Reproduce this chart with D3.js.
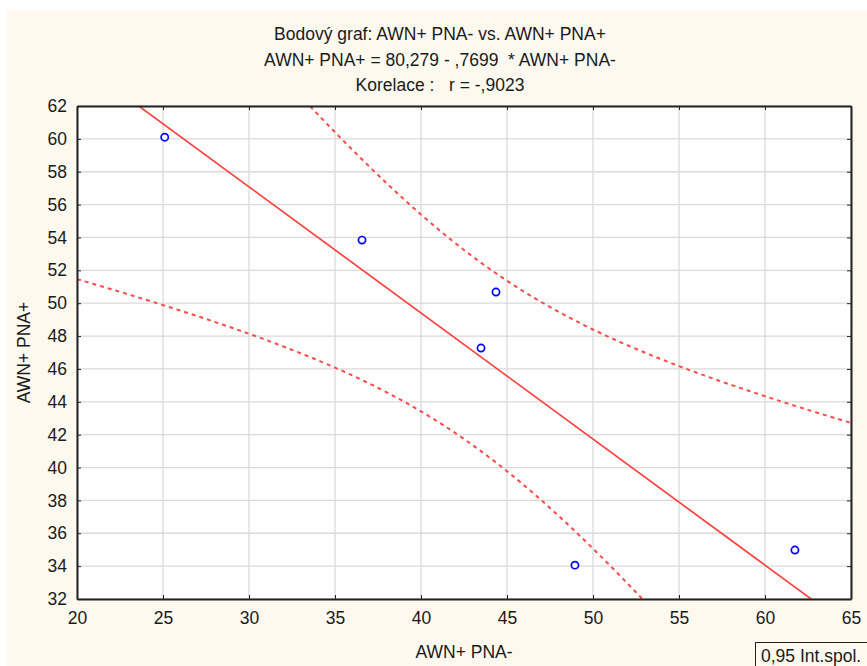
<!DOCTYPE html>
<html>
<head>
<meta charset="utf-8">
<script src="https://cdn.jsdelivr.net/npm/d3@7"></script>
<style>
  body { margin: 0; background: #fff; }
  text { font-family: "Liberation Sans", Arial, sans-serif; fill: #1a1a1a; white-space: pre; }
</style>
</head>
<body>
<script>
// values
var xVals = [25.1, 36.57, 43.49, 44.36, 48.95, 61.74]
var yVals = [60.1, 53.84, 47.27, 50.68, 34.06, 34.98]
var xTicks = [20, 25, 30, 35, 40, 45, 50, 55, 60, 65]
var yTicks = [32, 34, 36, 38, 40, 42, 44, 46, 48, 50, 52, 54, 56, 58, 60, 62]
var titleLines = ['Bodový graf: AWN+ PNA- vs. AWN+ PNA+',
                  'AWN+ PNA+ = 80,279 - ,7699  * AWN+ PNA-',
                  'Korelace :   r = -,9023']
var xTitle = 'AWN+ PNA-'
var yTitle = 'AWN+ PNA+'
var legendText = '0,95 Int.spol.'

var W = 867, H = 666
var L = 77, R = 851, T = 106, B = 599
var FS = 17.5

var svg = d3.select('body').append('svg').attr('width', W).attr('height', H)

svg.append('rect').attr('x', 7).attr('y', 10).attr('width', W - 7).attr('height', H - 10)
  .attr('fill', '#fef9ef')

var x = d3.scaleLinear().domain([20, 65]).range([L, R])
var y = d3.scaleLinear().domain([32, 62]).range([B, T])

svg.append('rect').attr('x', L).attr('y', T).attr('width', R - L).attr('height', B - T).attr('fill', '#fff')

svg.append('clipPath').attr('id', 'clip')
  .append('rect').attr('x', L).attr('y', T).attr('width', R - L).attr('height', B - T)

// grid
svg.append('g').selectAll('line').data(xTicks).enter().append('line')
  .attr('x1', d => x(d)).attr('x2', d => x(d)).attr('y1', T).attr('y2', B)
  .attr('stroke', '#dadada').attr('stroke-width', 1.3)
svg.append('g').selectAll('line').data(yTicks).enter().append('line')
  .attr('y1', d => y(d)).attr('y2', d => y(d)).attr('x1', L).attr('x2', R)
  .attr('stroke', '#dadada').attr('stroke-width', 1.3)

// regression + 95% confidence band for the mean
var n = xVals.length
var mx = d3.mean(xVals), my = d3.mean(yVals)
var sxx = d3.sum(xVals, d => (d - mx) * (d - mx))
var sxy = d3.sum(xVals, (d, i) => (d - mx) * (yVals[i] - my))
var b1 = sxy / sxx, b0 = my - b1 * mx
var sse = d3.sum(xVals, (d, i) => Math.pow(yVals[i] - (b0 + b1 * d), 2))
var s = Math.sqrt(sse / (n - 2))
var t = 2.776 // t(0.975, 4)

var grid = d3.range(20, 65.01, 0.25)
var band = sign => grid.map(v => ({x: v, y: b0 + b1 * v + sign * t * s * Math.sqrt(1 / n + (v - mx) * (v - mx) / sxx)}))
var line = d3.line().x(d => x(d.x)).y(d => y(d.y))

var plot = svg.append('g').attr('clip-path', 'url(#clip)')
plot.append('path').attr('d', line([{x: 20, y: b0 + b1 * 20}, {x: 65, y: b0 + b1 * 65}]))
  .attr('fill', 'none').attr('stroke', '#ff4040').attr('stroke-width', 1.7)
;[-1, 1].forEach(sg => {
  plot.append('path').attr('d', line(band(sg)))
    .attr('fill', 'none').attr('stroke', '#ff4a4a').attr('stroke-width', 2)
    .attr('stroke-dasharray', '4,4')
})

// points
svg.append('g').selectAll('circle').data(xVals).enter().append('circle')
  .attr('cx', d => x(d)).attr('cy', (d, i) => y(yVals[i])).attr('r', 3.6)
  .attr('fill', '#fff').attr('stroke', '#0000ff').attr('stroke-width', 1.7)

// frame with inward ticks on all sides
var axes = svg.append('g')
axes.append('g').attr('class', 'xb').attr('transform', `translate(0,${B})`)
  .call(d3.axisBottom(x).tickValues(xTicks).tickSize(-4).tickSizeOuter(0).tickPadding(13))
axes.append('g').attr('transform', `translate(0,${T})`)
  .call(d3.axisTop(x).tickValues(xTicks).tickSize(-4).tickSizeOuter(0).tickFormat(''))
axes.append('g').attr('transform', `translate(${L},0)`)
  .call(d3.axisLeft(y).tickValues(yTicks).tickSize(-4).tickSizeOuter(0).tickPadding(10))
axes.append('g').attr('transform', `translate(${R},0)`)
  .call(d3.axisRight(y).tickValues(yTicks).tickSize(-4).tickSizeOuter(0).tickFormat(''))
axes.selectAll('.domain').attr('stroke', '#222').attr('stroke-width', 2)
axes.selectAll('.tick line').attr('stroke', '#222')
axes.selectAll('.tick text').attr('font-size', FS).attr('fill', '#1a1a1a')
  .attr('font-family', '"Liberation Sans", Arial, sans-serif')

// titles
svg.selectAll('text.title').data(titleLines).enter().append('text')
  .attr('class', 'title').attr('x', 440).attr('y', (d, i) => 40 + i * 25.5)
  .attr('text-anchor', 'middle').attr('font-size', FS).text(d => d)

svg.append('text').attr('x', x(42.5)).attr('y', 658).attr('text-anchor', 'middle')
  .attr('font-size', FS).text(xTitle)
svg.append('text').attr('transform', `translate(30,${(T + B) / 2}) rotate(-90)`)
  .attr('text-anchor', 'middle').attr('font-size', FS).text(yTitle)

// legend box
svg.append('rect').attr('x', 755.5).attr('y', 642.5).attr('width', 120).attr('height', 30)
  .attr('fill', 'none').attr('stroke', '#222').attr('stroke-width', 1)
svg.append('text').attr('x', 761).attr('y', 662).attr('font-size', FS).text(legendText)
</script>
</body>
</html>
